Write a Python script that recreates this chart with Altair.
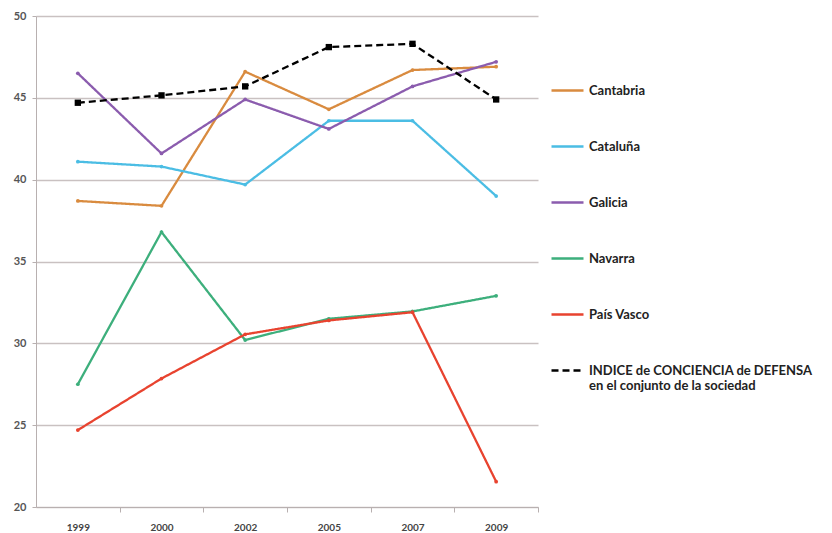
import altair as alt
import pandas as pd

years = ["1999", "2000", "2002", "2005", "2007", "2009"]
series = ["Cantabria", "Cataluña", "Galicia", "Navarra", "País Vasco",
          "INDICE de CONCIENCIA de DEFENSA en el conjunto de la sociedad"]
cantabria = [38.7, 38.4, 46.6, 44.3, 46.7, 46.9]
cataluna = [41.1, 40.8, 39.7, 43.6, 43.6, 39.0]
galicia = [46.5, 41.6, 44.9, 43.1, 45.7, 47.2]
navarra = [27.5, 36.8, 30.2, 31.5, 31.95, 32.9]
pais_vasco = [24.7, 27.85, 30.55, 31.4, 31.9, 21.55]
indice = [44.7, 45.15, 45.7, 48.1, 48.3, 44.9]
colors = ["#D98B3F", "#4BBDE4", "#8B5CAE", "#3DAF7C", "#E8432F", "#000000"]

values = [cantabria, cataluna, galicia, navarra, pais_vasco, indice]
rows = []
for s, vals in zip(series, values):
    for y, v in zip(years, vals):
        rows.append({"year": y, "serie": s, "value": v})
df = pd.DataFrame(rows)
INDEX = series[-1]

step = 502 / 6

x = alt.X("year:N", sort=years, title=None,
          scale=alt.Scale(type="point", padding=0.5),
          axis=alt.Axis(labelAngle=0, tickOffset=step / 2, labelOffset=-step / 2,
                        domainColor="#B8B0B0", tickColor="#B8B0B0", tickSize=5,
                        labelPadding=10, labelFontSize=10, labelFont="Lato",
                        labelFontWeight="bold", labelColor="#444444", grid=False))
y = alt.Y("value:Q", title=None,
          scale=alt.Scale(domain=[20, 50], nice=False, zero=False),
          axis=alt.Axis(values=[20, 25, 30, 35, 40, 45, 50], grid=True,
                        gridColor="#C9C1C1", gridWidth=1.3,
                        domainColor="#B8B0B0", tickColor="#B8B0B0", tickSize=4,
                        labelPadding=6, labelFontSize=11, labelFont="Lato",
                        labelFontWeight="bold", labelColor="#555555"))

legend = alt.Legend(title=None, orient="none", legendX=514, legendY=57,
                    symbolType="stroke", symbolSize=1024, symbolStrokeWidth=2.5,
                    labelFont="Lato", labelFontSize=13, labelFontWeight="bold",
                    labelColor="#222222", labelLimit=400, rowPadding=31,
                    labelOffset=4,
                    labelExpr="datum.label == 'INDICE de CONCIENCIA de DEFENSA en el conjunto de la sociedad' ? ['INDICE de CONCIENCIA de DEFENSA', 'en el conjunto de la sociedad'] : datum.label")

color_scale = alt.Scale(domain=series, range=colors)
color = alt.Color("serie:N", scale=color_scale, legend=legend)
dash = alt.StrokeDash("serie:N",
                      scale=alt.Scale(domain=series, range=[[1, 0]] * 5 + [[7, 4]]),
                      legend=legend)

lines = alt.Chart(df).mark_line(strokeWidth=2.3).encode(
    x=x, y=y, color=color, strokeDash=dash, order=alt.Order("year:N"))

dots = alt.Chart(df).transform_filter(alt.datum.serie != INDEX).mark_circle(
    size=14, opacity=1).encode(
    x=x, y=y, color=alt.Color("serie:N", scale=color_scale, legend=None))

squares = alt.Chart(df).transform_filter(alt.datum.serie == INDEX).mark_square(
    size=40, opacity=1).encode(
    x=x, y=y, color=alt.Color("serie:N", scale=color_scale, legend=None))

chart = alt.layer(lines, dots, squares).properties(
    width=502, height=491, padding={"left": 5, "top": 2, "right": 5, "bottom": 5},
    background="white"
).configure_view(stroke=None)

chart.save("out.html", embed_options={"renderer": "svg", "actions": False})
